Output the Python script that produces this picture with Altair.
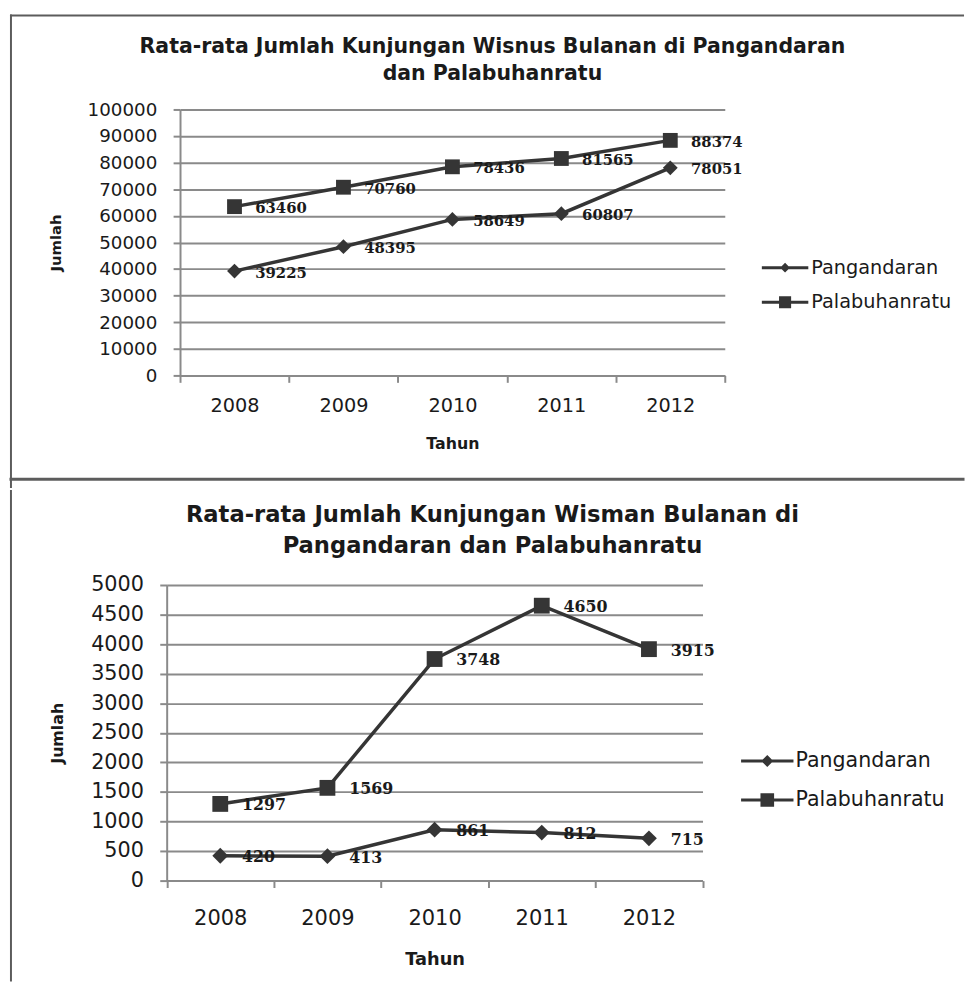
import altair as alt
import pandas as pd

# ---------------- data ----------------
years = ["2008", "2009", "2010", "2011", "2012"]
series_names = ["Pangandaran", "Palabuhanratu"]

wisnus_pangandaran = [39225, 48395, 58649, 60807, 78051]
wisnus_palabuhanratu = [63460, 70760, 78436, 81565, 88374]

wisman_pangandaran = [420, 413, 861, 812, 715]
wisman_palabuhanratu = [1297, 1569, 3748, 4650, 3915]

y_ticks_wisnus = [0, 10000, 20000, 30000, 40000, 50000, 60000, 70000, 80000, 90000, 100000]
y_ticks_wisman = [0, 500, 1000, 1500, 2000, 2500, 3000, 3500, 4000, 4500, 5000]

title_wisnus = ["Rata-rata Jumlah Kunjungan Wisnus Bulanan di Pangandaran",
                "dan Palabuhanratu"]
title_wisman = ["Rata-rata Jumlah Kunjungan Wisman Bulanan di",
                "Pangandaran dan Palabuhanratu"]

# ---------------- style ----------------
LINE = "#353535"
GRID = "#8a8a8a"
TEXT = "#1a1a1a"
BORDER = "#5c5c5c"
SANS = "DejaVu Sans"
SERIF = "DejaVu Serif"


def legend_paths(t, d, s):
    bar = f"M-1,-{t}H1V{t}H-1Z"
    diamond = f"{bar}M0,-{d}L{d},0L0,{d}L-{d},0Z"
    square = f"{bar}M-{s},-{s}H{s}V{s}H-{s}Z"
    return [diamond, square]


def panel(vals_a, vals_b, title_lines, y_ticks, p):
    df = pd.DataFrame({
        "Tahun": years * 2,
        "Seri": [series_names[0]] * len(years) + [series_names[1]] * len(years),
        "Jumlah": vals_a + vals_b,
    })
    sh = p["shift"]  # how far the y axis sits left of the view origin
    x = alt.X(
        "Tahun:O",
        sort=years,
        scale=alt.Scale(type="band", paddingInner=0, paddingOuter=0,
                        range=[-sh, p["w"] - sh]),
        axis=alt.Axis(
            title="Tahun", labelAngle=0, tickBand="extent", grid=False,
            domainColor=GRID, domainWidth=2, tickColor=GRID, tickWidth=2, tickSize=7,
            labelFont=SANS, labelFontSize=p["xl_fs"], labelColor=TEXT,
            labelPadding=p["xl_pad"], labelBaseline="top",
            titleFont=SANS, titleFontWeight="bold", titleFontSize=p["xt_fs"], titleColor=TEXT,
            titleX=p["w"] / 2 - sh, titleY=p["xt_y"], titleAlign="center", titleBaseline="middle",
        ),
    )
    y_axis_kw = dict(
        title="Jumlah", values=y_ticks, format="d",
        grid=True, gridColor=GRID, gridWidth=2,
        domainColor=GRID, domainWidth=2, tickColor=GRID, tickWidth=2, tickSize=7,
        labelFont=SANS, labelFontSize=p["yl_fs"], labelColor=TEXT, labelPadding=16.5,
        titleFont=SANS, titleFontWeight="bold", titleFontSize=p["yt_fs"], titleColor=TEXT,
        titleAngle=270, titleX=p["yt_x"], titleY=p["h"] / 2,
        titleAlign="center", titleBaseline="middle",
    )
    if sh:
        y_axis_kw["offset"] = sh
    y = alt.Y(
        "Jumlah:Q",
        scale=alt.Scale(domain=[y_ticks[0], y_ticks[-1]], nice=False),
        axis=alt.Axis(**y_axis_kw),
    )
    base = alt.Chart(df).encode(x=x, y=y)

    line = base.mark_line(color=LINE, strokeWidth=3.5).encode(detail="Seri:N")
    pts = base.mark_point(filled=True, opacity=1, color=LINE, size=p["marker"]).encode(
        shape=alt.Shape(
            "Seri:N",
            scale=alt.Scale(domain=series_names, range=["diamond", "square"]),
            legend=None,
        )
    )
    # invisible layer that only supplies the legend (line + marker symbols)
    legend_layer = base.mark_point(filled=True, opacity=0, color=LINE, size=p["sym"]).encode(
        shape=alt.Shape(
            "Seri:N",
            scale=alt.Scale(domain=series_names, range=legend_paths(p["bt"], p["dh"], p["sh"])),
            legend=alt.Legend(
                title=None, orient="none", legendX=p["lx"], legendY=p["ly"],
                direction="vertical", padding=0,
                labelFont=SANS, labelFontSize=p["lg_fs"], labelColor=TEXT,
                labelOffset=p["lab_off"], labelBaseline="middle",
                symbolSize=p["sym"], symbolStrokeWidth=0, symbolOpacity=1,
                symbolFillColor=LINE, symbolStrokeColor=LINE,
                rowPadding=p["row_pad"],
            ),
        )
    )
    labels = base.mark_text(
        align="left", baseline="middle", dx=p["dx"], dy=1.5,
        font=SERIF, fontWeight="bold", fontSize=p["dl_fs"], color=TEXT,
    ).encode(text=alt.Text("Jumlah:Q", format="d"))

    frame = alt.Chart(pd.DataFrame({"k": [0]}))
    title_marks = []
    for i, txt in enumerate(title_lines):
        title_marks.append(frame.mark_text(
            align="center", baseline="alphabetic", font=SANS, fontWeight="bold",
            fontSize=p["ti_fs"], color=TEXT,
        ).encode(x=alt.value(p["ti_x"]), y=alt.value(p["ti_y"] + i * p["ti_lh"]),
                 text=alt.value(txt)))

    rules = []
    for seg in p["rules"]:
        kind, a, b1, b2, sw = seg
        if kind == "h":
            enc = dict(x=alt.value(b1), x2=alt.value(b2), y=alt.value(a))
        else:
            enc = dict(x=alt.value(a), y=alt.value(b1), y2=alt.value(b2))
        rules.append(frame.mark_rule(color=BORDER, strokeWidth=sw, strokeCap="square").encode(**enc))

    return alt.layer(line, pts, legend_layer, labels, *title_marks, *rules).resolve_scale(
        shape="independent"
    ).properties(width=p["w"], height=p["h"])


# top view origin: page (180, 104); bottom view origin: page (180, 583)
top_p = dict(
    w=551, h=269, shift=0,
    xl_fs=19.5, xl_pad=15, xt_fs=16, xt_y=69, yl_fs=18.5, yt_fs=15, yt_x=-125.5,
    marker=225, lx=588.5, ly=136.5, lg_fs=19.5, sym=2209, bt=0.064, dh=0.21, sh=0.26,
    lab_off=3, row_pad=2,
    dx=21, dl_fs=15, ti_fs=20.7, ti_x=316, ti_y=-57.5, ti_lh=27.5,
    rules=[
        ("h", -95, -171, 792, 2),     # top edge of upper box
        ("v", -171, -95, 382, 2),     # left edge (continues into lower box)
        ("h", 374, -171, 792, 3),     # shared edge between the two boxes
    ],
)
bot_p = dict(
    w=542, h=299, shift=13.5,
    xl_fs=21.2, xl_pad=20, xt_fs=18, xt_y=79.5, yl_fs=21, yt_fs=16, yt_x=-110.5,
    marker=256, lx=567.5, ly=151.5, lg_fs=20.8, sym=2809, bt=0.057, dh=0.23, sh=0.26,
    lab_off=2, row_pad=2.5,
    dx=22, dl_fs=16, ti_fs=22.9, ti_x=316, ti_y=-63.6, ti_lh=31.6,
    rules=[
        ("v", -171, -95, 400, 2),     # left edge of lower box
    ],
)

top = panel(wisnus_pangandaran, wisnus_palabuhanratu, title_wisnus, y_ticks_wisnus, top_p)
bottom = panel(wisman_pangandaran, wisman_palabuhanratu, title_wisman, y_ticks_wisman, bot_p)

chart = (
    alt.vconcat(top, bottom, spacing=0)
    .resolve_scale(x="independent", y="independent", shape="independent")
    .resolve_legend(shape="independent")
    .properties(padding=0, background="white")
    .configure_view(stroke=None)
)

chart.save("out.html", embed_options={"renderer": "svg", "actions": False})
